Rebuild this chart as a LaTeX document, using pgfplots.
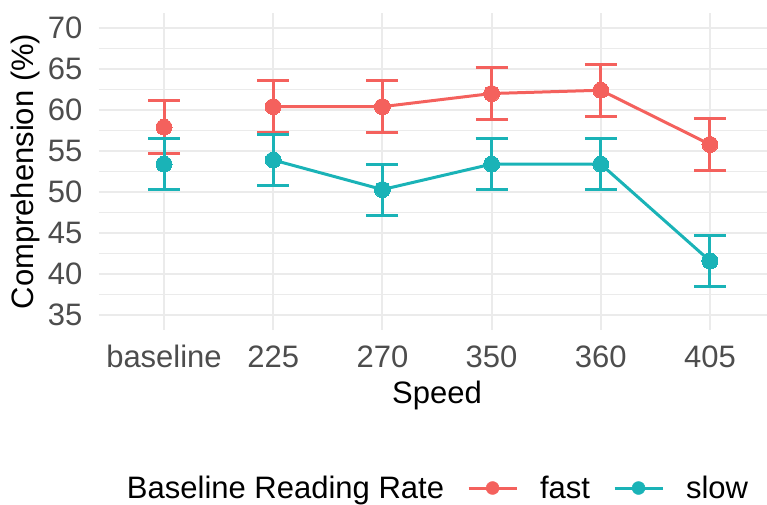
\documentclass[border=0pt]{standalone}
\usepackage{pgfplots}
\usepackage{pgfplotstable}
\pgfplotsset{compat=1.18}
\usepackage{fontspec}
\setmainfont{Liberation Sans}

\definecolor{fastc}{HTML}{F4615D}
\definecolor{slowc}{HTML}{1AB3B7}
\definecolor{gridc}{HTML}{EBEBEB}
\definecolor{tickc}{HTML}{4D4D4D}

% mean comprehension and half-width of the error bar; x = category index
\pgfplotstableread{
x y e
0 57.9 3.2
}\fastbase
\pgfplotstableread{
x y e
1 60.4 3.2
2 60.4 3.2
3 62.0 3.15
4 62.4 3.15
5 55.8 3.2
}\fastspeed
\pgfplotstableread{
x y e
0 53.4 3.1
}\slowbase
\pgfplotstableread{
x y e
1 53.9 3.1
2 50.3 3.1
3 53.4 3.1
4 53.4 3.1
5 41.6 3.05
}\slowspeed

\newcommand{\txt}{\fontsize{31bp}{36bp}\selectfont}

\pgfplotsset{
  series/.style={
    forget plot,
    color=#1, line width=3bp, mark=*, mark size=8bp,
    mark options={solid, fill=#1, draw=#1, line width=0pt},
    error bars/y dir=both, error bars/y explicit,
    error bars/error bar style={line width=3bp, color=#1},
    error bars/error mark options={rotate=90, mark size=16bp, line width=3bp, color=#1},
  },
  keyimg/.style={legend image code/.code={
    \draw[#1, line width=3bp] (0bp,0bp) -- (48bp,0bp);
    \fill[#1] (24bp,0bp) circle (6.5bp);}},
}

\begin{document}
\begin{tikzpicture}
\useasboundingbox (0,0) rectangle (767bp,-505bp);
\begin{axis}[
  scale only axis, width=677bp, height=316bp,
  at={(98.5bp,-329.5bp)}, anchor=south west,
  xmin=-0.6, xmax=5.6, ymin=33.25, ymax=71.75,
  xtick={0,...,5}, xticklabels={baseline,225,270,350,360,405},
  ytick={35,40,...,70}, minor ytick={37.5,42.5,...,67.5},
  axis line style={draw=none},
  major tick length=0pt, minor tick length=0pt,
  xmajorgrids, ymajorgrids, yminorgrids,
  major grid style={gridc, line width=2bp},
  minor grid style={gridc, line width=1.2bp},
  /pgf/number format/assume math mode=true,
  tick label style={font=\txt, text=tickc},
  yticklabel style={anchor=east, inner sep=0pt, xshift=-16bp},
  xticklabel style={anchor=north, inner sep=0pt, yshift=-15bp, text height=22.5bp},
  xlabel={Speed}, ylabel={Comprehension (\%)},
  label style={font=\txt, text=black, inner sep=0pt},
  xlabel style={at={(axis description cs:0.5,-0.2326)}, anchor=base},
  ylabel style={at={(axis description cs:-0.0967,0.5)}, anchor=base},
  legend columns=-1,
  legend cell align=left,
  legend style={
    at={(axis description cs:0.0096,-0.5016)}, anchor=west,
    draw=none, fill=none, inner sep=0pt, outer sep=0pt,
    font=\txt, nodes={inner sep=0pt},
    /tikz/every odd column/.style={column sep=22bp},
    /tikz/every even column/.style={column sep=23bp},
  },
]
\addlegendimage{empty legend}
\addlegendentry{Baseline Reading Rate}
\addlegendimage{keyimg=fastc}
\addlegendentry{fast}
\addlegendimage{keyimg=slowc}
\addlegendentry{slow}

\addplot[series=fastc] table[x=x, y=y, y error=e] {\fastbase};
\addplot[series=fastc] table[x=x, y=y, y error=e] {\fastspeed};
\addplot[series=slowc] table[x=x, y=y, y error=e] {\slowbase};
\addplot[series=slowc] table[x=x, y=y, y error=e] {\slowspeed};
\end{axis}
\end{tikzpicture}
\end{document}
